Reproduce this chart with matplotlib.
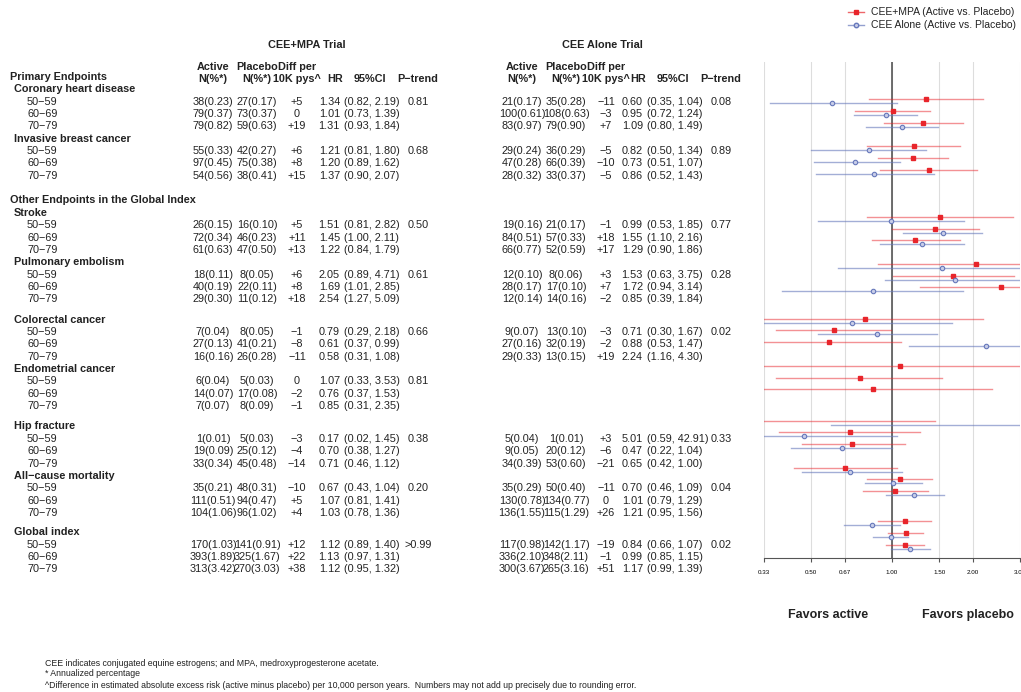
import matplotlib.pyplot as plt
import numpy as np

plt.rcParams['font.family'] = ['Liberation Sans', 'DejaVu Sans']

outcomes = ["Coronary heart disease", "Invasive breast cancer", "Stroke", "Pulmonary embolism",
            "Colorectal cancer", "Endometrial cancer", "Hip fracture", "All\u2212cause mortality", "Global index"]
ages = ["50\u221259", "60\u221269", "70\u221279"]

# CEE+MPA trial
mpa_active = ["38(0.23)", "79(0.37)", "79(0.82)", "55(0.33)", "97(0.45)", "54(0.56)",
              "26(0.15)", "72(0.34)", "61(0.63)", "18(0.11)", "40(0.19)", "29(0.30)",
              "7(0.04)", "27(0.13)", "16(0.16)", "6(0.04)", "14(0.07)", "7(0.07)",
              "1(0.01)", "19(0.09)", "33(0.34)", "35(0.21)", "111(0.51)", "104(1.06)",
              "170(1.03)", "393(1.89)", "313(3.42)"]
mpa_placebo = ["27(0.17)", "73(0.37)", "59(0.63)", "42(0.27)", "75(0.38)", "38(0.41)",
               "16(0.10)", "46(0.23)", "47(0.50)", "8(0.05)", "22(0.11)", "11(0.12)",
               "8(0.05)", "41(0.21)", "26(0.28)", "5(0.03)", "17(0.08)", "8(0.09)",
               "5(0.03)", "25(0.12)", "45(0.48)", "48(0.31)", "94(0.47)", "96(1.02)",
               "141(0.91)", "325(1.67)", "270(3.03)"]
mpa_diff = ["+5", "0", "+19", "+6", "+8", "+15", "+5", "+11", "+13", "+6", "+8", "+18",
            "\u22121", "\u22128", "\u221211", "0", "\u22122", "\u22121", "\u22123", "\u22124", "\u221214",
            "\u221210", "+5", "+4", "+12", "+22", "+38"]
mpa_hr = [1.34, 1.01, 1.31, 1.21, 1.20, 1.37, 1.51, 1.45, 1.22, 2.05, 1.69, 2.54,
          0.79, 0.61, 0.58, 1.07, 0.76, 0.85, 0.17, 0.70, 0.71, 0.67, 1.07, 1.03, 1.12, 1.13, 1.12]
mpa_lo = [0.82, 0.73, 0.93, 0.81, 0.89, 0.90, 0.81, 1.00, 0.84, 0.89, 1.01, 1.27,
          0.29, 0.37, 0.31, 0.33, 0.37, 0.31, 0.02, 0.38, 0.46, 0.43, 0.81, 0.78, 0.89, 0.97, 0.95]
mpa_hi = [2.19, 1.39, 1.84, 1.80, 1.62, 2.07, 2.82, 2.11, 1.79, 4.71, 2.85, 5.09,
          2.18, 0.99, 1.08, 3.53, 1.53, 2.35, 1.45, 1.27, 1.12, 1.04, 1.41, 1.36, 1.40, 1.31, 1.32]
mpa_ptrend = ["0.81", "0.68", "0.50", "0.61", "0.66", "0.81", "0.38", "0.20", ">0.99"]

# CEE alone trial (no endometrial cancer)
cee_active = ["21(0.17)", "100(0.61)", "83(0.97)", "29(0.24)", "47(0.28)", "28(0.32)",
              "19(0.16)", "84(0.51)", "66(0.77)", "12(0.10)", "28(0.17)", "12(0.14)",
              "9(0.07)", "27(0.16)", "29(0.33)", None, None, None,
              "5(0.04)", "9(0.05)", "34(0.39)", "35(0.29)", "130(0.78)", "136(1.55)",
              "117(0.98)", "336(2.10)", "300(3.67)"]
cee_placebo = ["35(0.28)", "108(0.63)", "79(0.90)", "36(0.29)", "66(0.39)", "33(0.37)",
               "21(0.17)", "57(0.33)", "52(0.59)", "8(0.06)", "17(0.10)", "14(0.16)",
               "13(0.10)", "32(0.19)", "13(0.15)", None, None, None,
               "1(0.01)", "20(0.12)", "53(0.60)", "50(0.40)", "134(0.77)", "115(1.29)",
               "142(1.17)", "348(2.11)", "265(3.16)"]
cee_diff = ["\u221211", "\u22123", "+7", "\u22125", "\u221210", "\u22125", "\u22121", "+18", "+17",
            "+3", "+7", "\u22122", "\u22123", "\u22122", "+19", None, None, None,
            "+3", "\u22126", "\u221221", "\u221211", "0", "+26", "\u221219", "\u22121", "+51"]
cee_hr = [0.60, 0.95, 1.09, 0.82, 0.73, 0.86, 0.99, 1.55, 1.29, 1.53, 1.72, 0.85,
          0.71, 0.88, 2.24, None, None, None, 5.01, 0.47, 0.65, 0.70, 1.01, 1.21, 0.84, 0.99, 1.17]
cee_lo = [0.35, 0.72, 0.80, 0.50, 0.51, 0.52, 0.53, 1.10, 0.90, 0.63, 0.94, 0.39,
          0.30, 0.53, 1.16, None, None, None, 0.59, 0.22, 0.42, 0.46, 0.79, 0.95, 0.66, 0.85, 0.99]
cee_hi = [1.04, 1.24, 1.49, 1.34, 1.07, 1.43, 1.85, 2.16, 1.86, 3.75, 3.14, 1.84,
          1.67, 1.47, 4.30, None, None, None, 42.91, 1.04, 1.00, 1.09, 1.29, 1.56, 1.07, 1.15, 1.39]
cee_ptrend = ["0.08", "0.89", "0.77", "0.28", "0.02", None, "0.33", "0.04", "0.02"]

W, H = 1021, 692
fig = plt.figure(figsize=(W / 100, H / 100), dpi=100)
FS = 7.8
TXT = '#222222'


def t(x, y, s, ha='left', bold=False, size=FS, **kw):
    fig.text(x / W, 1 - y / H, s, ha=ha, va='center', fontsize=size,
             fontweight='bold' if bold else 'normal', color=TXT, **kw)


# layout of rows (pixel y)
gaps = [0, 0, 0, 0, 8, 0, 8, 0, 7]
sections = {0: "Primary Endpoints", 2: "Other Endpoints in the Global Index"}
step = 12.35
y = 77
row_y = []
for k, name in enumerate(outcomes):
    y += gaps[k]
    if k in sections:
        if k > 0:
            y += step
        t(10, y, sections[k], bold=True)
        y += step
    t(14, y, name, bold=True)
    y += step
    for a in ages:
        t(27, y, a)
        row_y.append(y)
        y += step

# headers
t(307, 45, "CEE+MPA Trial", ha='center', bold=True)
t(602, 45, "CEE Alone Trial", ha='center', bold=True)
# active, placebo, diff centres; HR right edge; CI left edge; p-trend centre
cols_mpa = [213, 257, 297, 340, 344, 418]
cols_cee = [522, 566, 606, 643, 647, 721]
for cols in (cols_mpa, cols_cee):
    t(cols[0], 67, "Active", ha='center', bold=True)
    t(cols[0], 79, "N(%*)", ha='center', bold=True)
    t(cols[1], 67, "Placebo", ha='center', bold=True)
    t(cols[1], 79, "N(%*)", ha='center', bold=True)
    t(cols[2], 67, "Diff per", ha='center', bold=True)
    t(cols[2], 79, "10K pys^", ha='center', bold=True)
    t(cols[3] - 5, 79, "HR", ha='center', bold=True)
    t(cols[4] + 26, 79, "95%CI", ha='center', bold=True)
    t(cols[5], 79, "P\u2212trend", ha='center', bold=True)

for cols, act, pla, dif, hr, lo, hi, pt in [
        (cols_mpa, mpa_active, mpa_placebo, mpa_diff, mpa_hr, mpa_lo, mpa_hi, mpa_ptrend),
        (cols_cee, cee_active, cee_placebo, cee_diff, cee_hr, cee_lo, cee_hi, cee_ptrend)]:
    for i, ry in enumerate(row_y):
        if act[i] is None:
            continue
        t(cols[0], ry, act[i], ha='center')
        t(cols[1], ry, pla[i], ha='center')
        t(cols[2], ry, dif[i], ha='center')
        t(cols[3], ry, f"{hr[i]:.2f}", ha='right')
        t(cols[4], ry, f"({lo[i]:.2f}, {hi[i]:.2f})", ha='left')
    for k in range(len(outcomes)):
        if pt[k] is not None:
            t(cols[5], row_y[3 * k], pt[k], ha='center')

# forest plot (rows slightly compressed relative to table)
x0, x1, ytop, ybot = 764, 1020, 62, 558
ax = fig.add_axes([x0 / W, 1 - ybot / H, (x1 - x0) / W, (ybot - ytop) / H])
ax.set_xscale('log')
ax.set_xlim(1 / 3, 3)
ax.set_ylim(ybot, ytop)
ticks = [1 / 3, 0.5, 2 / 3, 1, 1.5, 2, 3]
ax.set_xticks(ticks)
ax.set_xticklabels(["0.33", "0.50", "0.67", "1.00", "1.50", "2.00", "3.00"], fontsize=4.5)
ax.minorticks_off()
ax.set_yticks([])
for s in ['top', 'right', 'left']:
    ax.spines[s].set_visible(False)
ax.spines['bottom'].set_color('#555555')
ax.tick_params(axis='x', length=3, color='#555555', pad=6)
for tk in ticks:
    ax.axvline(tk, color='#dddddd', lw=0.8, zorder=0)
ax.axvline(1, color='#555555', lw=1.2, zorder=1)

red, blue = '#e8252b', '#6678bb'
fy0, fy1 = row_y[0], row_y[-1]
for i, ry in enumerate(row_y):
    fy = 101 + (ry - fy0) * (446 / (fy1 - fy0))
    ax.plot([mpa_lo[i], mpa_hi[i]], [fy - 2, fy - 2], color=red, alpha=0.5, lw=1.0)
    ax.plot(mpa_hr[i], fy - 2, 's', color=red, ms=3.2)
    if cee_hr[i] is not None:
        ax.plot([cee_lo[i], cee_hi[i]], [fy + 2, fy + 2], color=blue, alpha=0.6, lw=1.0)
        ax.plot(cee_hr[i], fy + 2, 'o', mfc='#c8cde8', mec=blue, ms=3.2, mew=0.8)

t(828, 615, "Favors active", ha='center', bold=True, size=9)
t(968, 615, "Favors placebo", ha='center', bold=True, size=9)

# legend
for ly, c, m, lab in [(12, red, 's', "CEE+MPA (Active vs. Placebo)"),
                      (25, blue, 'o', "CEE Alone (Active vs. Placebo)")]:
    fig.add_artist(plt.Line2D([848 / W, 864 / W], [1 - ly / H] * 2, color=c, alpha=0.7, lw=1))
    fig.add_artist(plt.Line2D([856 / W], [1 - ly / H], marker=m, color=c, ms=3.2,
                              mfc=c if m == 's' else '#c8cde8', mec=c))
    t(871, ly, lab, size=7.5)

t(45, 663, "CEE indicates conjugated equine estrogens; and MPA, medroxyprogesterone acetate.", size=6.3)
t(45, 674, "* Annualized percentage", size=6.3)
t(45, 685, "^Difference in estimated absolute excess risk (active minus placebo) per 10,000 person years.  "
           "Numbers may not add up precisely due to rounding error.", size=6.3)

fig.savefig("out.png", dpi=100)
